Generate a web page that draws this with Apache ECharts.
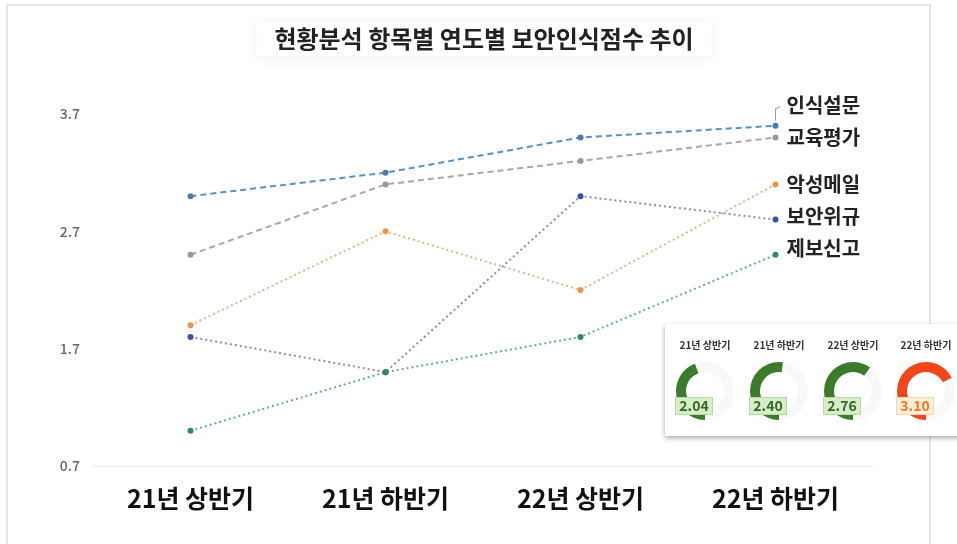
<!DOCTYPE html>
<html>
<head>
<meta charset="utf-8">
<script src="https://cdn.jsdelivr.net/npm/echarts@6/dist/echarts.min.js"></script>
<style>
  html, body { margin: 0; padding: 0; background: #fff; }
  #chart { width: 957px; height: 544px; }
</style>
</head>
<body>
<div id="chart"></div>
<script>
// 항목
const periods = ['21년 상반기', '21년 하반기', '22년 상반기', '22년 하반기'];
const yTicks = [0.7, 1.7, 2.7, 3.7];

// 항목별 점수
const survey = [3.0, 3.2, 3.5, 3.6];     // 인식설문
const education = [2.5, 3.1, 3.3, 3.5];  // 교육평가
const phishing = [1.9, 2.7, 2.2, 3.1];   // 악성메일
const violation = [1.8, 1.5, 3.0, 2.8];  // 보안위규
const report = [1.0, 1.5, 1.8, 2.5];     // 제보신고

// 반기별 평균 (게이지)
const gaugeValues = [2.04, 2.40, 2.76, 3.10];

const FONT = '"Noto Sans CJK KR", "Noto Sans", sans-serif';

const chart = echarts.init(document.getElementById('chart'));

// 라인 시리즈 공통
function lineSeries(name, data, lineColor, dotColor, type, labelDy){
    return {
        name: name,
        type: 'line',
        data: data,
        symbol: 'circle',
        symbolSize: 6,
        itemStyle: { color: dotColor },
        lineStyle: {
            color: lineColor,
            width: 2,
            type: type
        },
        endLabel: {
            show: true,
            formatter: name,
            distance: 11,
            offset: [0, labelDy],
            color: '#222',
            fontFamily: FONT,
            fontSize: 20,
            fontWeight: 'bold'
        },
        z: 3
    };
}

// 게이지 시리즈 (링 + 값 라벨을 따로 그려서 라벨이 위에 오게)
const gaugeCenters = [705, 779, 853, 926];
const gaugeBase = (v, i) => ({
    type: 'gauge',
    center: [gaugeCenters[i], 391],
    radius: 29,
    startAngle: 270,
    endAngle: -90,
    min: 0,
    max: 4.6,
    pointer: { show: false },
    anchor: { show: false },
    axisTick: { show: false },
    splitLine: { show: false },
    axisLabel: { show: false },
    data: [{ value: v, name: periods[i] }]
});
const gaugeRings = gaugeValues.map((v, i) => {
    const last = i === gaugeValues.length - 1;
    return Object.assign(gaugeBase(v, i), {
        progress: {
            show: true,
            width: 10,
            itemStyle: { color: last ? '#f0461a' : '#3e7a2b' }
        },
        axisLine: { lineStyle: { width: 10, color: [[1, '#f8f8f8']] } },
        title: {
            offsetCenter: [0, -46],
            color: '#333',
            fontFamily: FONT,
            fontSize: 10,
            fontWeight: 'bold'
        },
        detail: { show: false },
        z: 5
    });
});
const gaugeLabels = gaugeValues.map((v, i) => {
    const last = i === gaugeValues.length - 1;
    return Object.assign(gaugeBase(v, i), {
        progress: { show: false },
        axisLine: { show: false },
        title: { show: false },
        detail: {
            offsetCenter: [-11, 15],
            width: 34,
            height: 16,
            lineHeight: 16,
            formatter: (val) => val.toFixed(2),
            color: last ? '#f07a20' : '#2f6b22',
            backgroundColor: last ? '#fdeed9' : '#d8ecca',
            borderColor: last ? '#f8d6b0' : '#b8dba6',
            borderWidth: 1,
            padding: [0, 1],
            fontFamily: FONT,
            fontSize: 14,
            fontWeight: 'bold'
        },
        z: 6
    });
});

const option = {
    animation: false,
    backgroundColor: '#fff',
    title: {
        text: '현황분석 항목별 연도별 보안인식점수 추이',
        left: 466,
        top: 22,
        textAlign: 'center',
        padding: [5, 18],
        backgroundColor: '#fff',
        shadowBlur: 14,
        shadowColor: 'rgba(0,0,0,0.07)',
        shadowOffsetY: 2,
        textStyle: {
            color: '#222',
            fontFamily: FONT,
            fontSize: 24,
            fontWeight: 'bold'
        }
    },
    graphic: [
        {
            id: 'frame',
            type: 'rect',
            shape: { x: 7, y: 5, width: 923, height: 580 },
            style: { fill: 'none', stroke: '#e6e6e6', lineWidth: 2 },
            z: 0
        },
        {
            id: 'inset',
            type: 'rect',
            shape: { x: 665, y: 324, width: 300, height: 112 },
            style: {
                fill: '#fff',
                shadowBlur: 5,
                shadowOffsetY: 2,
                shadowColor: 'rgba(0,0,0,0.35)'
            },
            z: 1
        }
    ],
    grid: {
        left: 93,
        right: 84,
        top: 114,
        bottom: 78
    },
    xAxis: {
        type: 'category',
        data: periods,
        boundaryGap: true,
        axisTick: { show: false },
        axisLine: { lineStyle: { color: '#eeeeee', width: 1 } },
        axisLabel: {
            margin: 20,
            color: '#111',
            fontFamily: FONT,
            fontSize: 25,
            fontWeight: 'bold'
        }
    },
    yAxis: {
        type: 'value',
        min: 0.7,
        max: 3.7,
        axisLine: { show: false },
        axisTick: { show: false },
        splitLine: { show: false },
        axisLabel: {
            customValues: yTicks,
            formatter: (v) => v.toFixed(1),
            margin: 13,
            color: '#666',
            fontFamily: FONT,
            fontSize: 14,
            fontWeight: 500
        }
    },
    series: [
        lineSeries('인식설문', survey, '#5a90c8', '#4a78b0', [6, 4], -20),
        lineSeries('교육평가', education, '#a8a8a8', '#999999', [6, 4], 0),
        lineSeries('악성메일', phishing, '#e6b58a', '#e8964c', [2, 3], 0),
        lineSeries('보안위규', violation, '#8a8fa6', '#3d4f9f', [2, 3], -3),
        lineSeries('제보신고', report, '#66ad91', '#2e8b62', [2, 3], -6)
    ].concat(gaugeRings, gaugeLabels)
};

chart.setOption(option);

// 인식설문 라벨 연결선
const p = chart.convertToPixel({ seriesIndex: 0 }, [periods.length - 1, survey[survey.length - 1]]);
chart.setOption({
    graphic: [{
        id: 'bracket',
        type: 'polyline',
        shape: { points: [[p[0], p[1] - 5], [p[0], p[1] - 17], [p[0] + 5, p[1] - 19]] },
        style: { stroke: '#9a9a9a', lineWidth: 1, fill: 'none' },
        z: 3
    }]
});
</script>
</body>
</html>
